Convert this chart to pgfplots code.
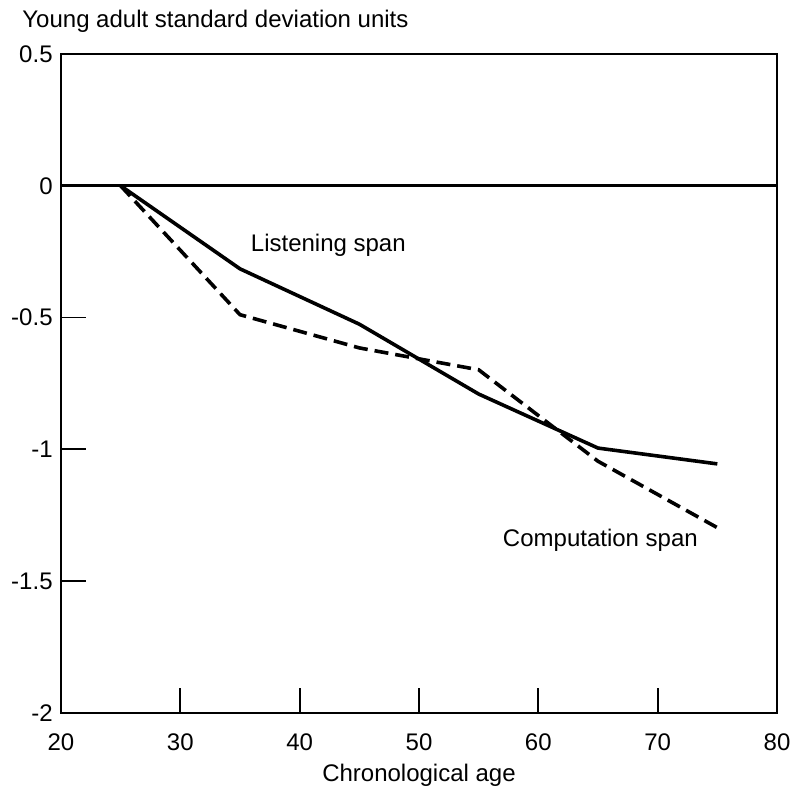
\documentclass[border=0pt]{standalone}
\usepackage{pgfplots}
\pgfplotsset{compat=1.18}
\usepackage{fontspec}
\setmainfont{Liberation Sans}
\begin{document}
\fontsize{12}{14.5}\selectfont
\begin{tikzpicture}
\begin{axis}[
  scale only axis,
  width=358pt, height=329.5pt,
  xmin=20, xmax=80, ymin=-2, ymax=0.5,
  xtick={20,30,40,50,60,70,80},
  ytick={-2,-1.5,-1,-0.5,0,0.5},
  yticklabels={-2,-1.5,-1,-0.5,0,0.5},
  xtick pos=left, ytick pos=left,
  tick align=inside,
  major tick length=12.5pt,
  axis line style={line width=1.3pt},
  tick style={line width=0.9pt, black},
  xticklabel style={anchor=center, yshift=-14.5pt},
  xlabel={Chronological age},
  xlabel style={at={(rel axis cs:0.5,0)}, anchor=center, yshift=-31pt},
  /pgf/number format/assume math mode=true,
  clip=false,
]
\addplot[black, line width=1.3pt] coordinates {(20,0) (80,0)};
% listening span
\addplot[black, line width=1.8pt] coordinates {
  (25,0) (35,-0.315) (45,-0.525) (55,-0.79) (65,-0.995) (75,-1.055)};
% computation span
\addplot[black, line width=1.8pt, dash pattern=on 7pt off 3.5pt] coordinates {
  (25,0) (35,-0.489) (45,-0.615) (55,-0.698) (65,-1.045) (75,-1.297)};
\node at (axis cs:42.4,-0.224) {Listening span};
\node at (axis cs:65.2,-1.343) {Computation span};
\node[anchor=base west, inner sep=0pt] at ([xshift=-19.5pt, yshift=13pt]rel axis cs:0,1) {Young adult standard deviation units};
\end{axis}
\pgfresetboundingbox
\path[use as bounding box] ([xshift=-30.5pt,yshift=-41.5pt]current axis.south west) rectangle ([xshift=9pt,yshift=27pt]current axis.north east);
\end{tikzpicture}
\end{document}
